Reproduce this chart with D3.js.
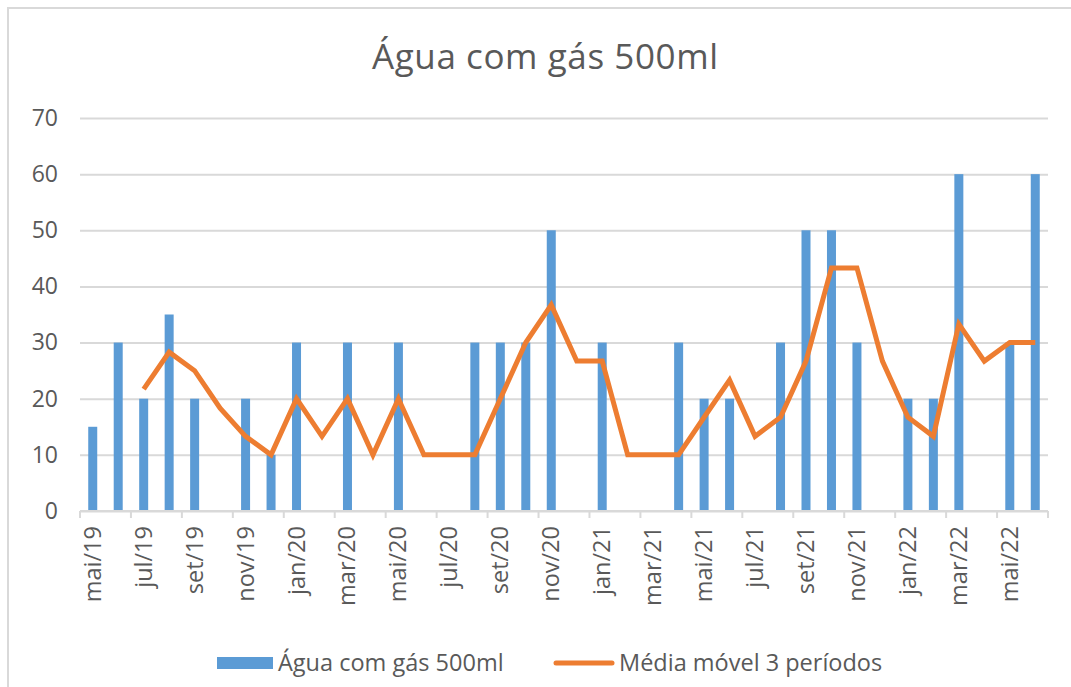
<!DOCTYPE html>
<html>
<head>
<meta charset="utf-8">
<script src="https://cdn.jsdelivr.net/npm/d3@7"></script>
<style>
  body { margin: 0; background: #fff; }
  text { font-family: "Open Sans", sans-serif; fill: #595959; }
</style>
</head>
<body>
<div id="chart"></div>
<script>
// months from mai/19 to jun/22
var months = ["mai/19","jun/19","jul/19","ago/19","set/19","out/19","nov/19","dez/19",
    "jan/20","fev/20","mar/20","abr/20","mai/20","jun/20","jul/20","ago/20","set/20","out/20","nov/20","dez/20",
    "jan/21","fev/21","mar/21","abr/21","mai/21","jun/21","jul/21","ago/21","set/21","out/21","nov/21","dez/21",
    "jan/22","fev/22","mar/22","abr/22","mai/22","jun/22"];

var sales = [15,30,20,35,20,0,20,10,
    30,0,30,0,30,0,0,30,30,30,50,0,
    30,0,0,30,20,20,0,30,50,50,30,0,
    20,20,60,0,30,60];

// moving average (first two months empty)
var movingAvg = [null,null,21.7,28.3,25,18.3,13.3,10,
    20,13.3,20,10,20,10,10,10,20,30,36.7,26.7,
    26.7,10,10,10,16.7,23.3,13.3,16.7,26.7,43.3,43.3,26.7,
    16.7,13.3,33.3,26.7,30,30];

var yTicks = [0,10,20,30,40,50,60,70];

var title = "Água com gás 500ml";
var legendNames = ["Água com gás 500ml", "Média móvel 3 períodos"];

function drawChart() {
    var w = 1071, h = 687;
    var left = 80, right = 1048, top = 118, bottom = 511;

    var svg = d3.select("#chart")
        .append("svg")
        .attr("width", w)
        .attr("height", h);

    // chart frame (only left and top visible in the crop)
    svg.append("path")
        .attr("d", "M8,687V8H1071")
        .attr("fill", "none")
        .attr("stroke", "#d9d9d9")
        .attr("stroke-width", 2);

    svg.append("text")
        .attr("x", 545)
        .attr("y", 69)
        .attr("text-anchor", "middle")
        .style("font-size", "35px")
        .attr("textLength", 346)
        .text(title);

    var xScale = d3.scaleBand()
        .domain(months)
        .range([left, right]);

    var yScale = d3.scaleLinear()
        .domain([0, 70])
        .range([bottom, top]);

    // gridlines + y labels
    var yAxis = svg.append("g")
        .attr("transform", `translate(${left},0)`)
        .call(d3.axisLeft(yScale).tickValues(yTicks).tickSize(-(right - left)).tickPadding(22));
    yAxis.select(".domain").remove();
    yAxis.selectAll(".tick line")
        .attr("stroke", "#d9d9d9")
        .attr("stroke-width", 2);
    yAxis.selectAll(".tick text")
        .style("font-size", "23px")
        .style("fill", "#595959")
        .style("font-family", "Open Sans, sans-serif");

    // bars
    var barW = 9;
    svg.selectAll(".bar")
        .data(months)
        .enter()
        .append("rect")
        .attr("x", (d, i) => xScale(d) + xScale.bandwidth() / 2 - barW / 2)
        .attr("y", (d, i) => yScale(sales[i]))
        .attr("width", barW)
        .attr("height", (d, i) => bottom - yScale(sales[i]))
        .attr("fill", "#5B9BD5");

    // x axis line and ticks every two months
    var xg = svg.append("g");
    xg.append("line")
        .attr("x1", left).attr("x2", right)
        .attr("y1", bottom).attr("y2", bottom)
        .attr("stroke", "#d9d9d9")
        .attr("stroke-width", 2);

    var tickIdx = d3.range(0, months.length + 1, 2);
    xg.selectAll(".xtick")
        .data(tickIdx)
        .enter()
        .append("line")
        .attr("x1", i => i < months.length ? xScale(months[i]) : right)
        .attr("x2", i => i < months.length ? xScale(months[i]) : right)
        .attr("y1", bottom)
        .attr("y2", bottom + 7)
        .attr("stroke", "#d9d9d9")
        .attr("stroke-width", 2);

    xg.selectAll(".xlabel")
        .data(months.filter((m, i) => i % 2 === 0))
        .enter()
        .append("text")
        .attr("transform", d => `translate(${xScale(d) + xScale.bandwidth() / 2 + 8},526) rotate(-90)`)
        .attr("text-anchor", "end")
        .style("font-size", "23.5px")
        .text(d => d);

    // moving average line
    var line = d3.line()
        .defined(d => d.v !== null)
        .x(d => xScale(d.m) + xScale.bandwidth() / 2)
        .y(d => yScale(d.v));

    svg.append("path")
        .datum(months.map((m, i) => ({ m: m, v: movingAvg[i] })))
        .attr("fill", "none")
        .attr("stroke", "#ED7D31")
        .attr("stroke-width", 5)
        .attr("d", line);

    // legend
    var lg = svg.append("g");
    lg.append("rect")
        .attr("x", 217).attr("y", 657)
        .attr("width", 56).attr("height", 12)
        .attr("fill", "#5B9BD5");
    lg.append("text")
        .attr("x", 278).attr("y", 671)
        .style("font-size", "23.5px")
        .text(legendNames[0]);
    lg.append("line")
        .attr("x1", 556).attr("x2", 612)
        .attr("y1", 663).attr("y2", 663)
        .attr("stroke", "#ED7D31")
        .attr("stroke-width", 5)
        .attr("stroke-linecap", "round");
    lg.append("text")
        .attr("x", 619).attr("y", 671)
        .style("font-size", "23.5px")
        .text(legendNames[1]);
}

drawChart();
</script>
</body>
</html>
